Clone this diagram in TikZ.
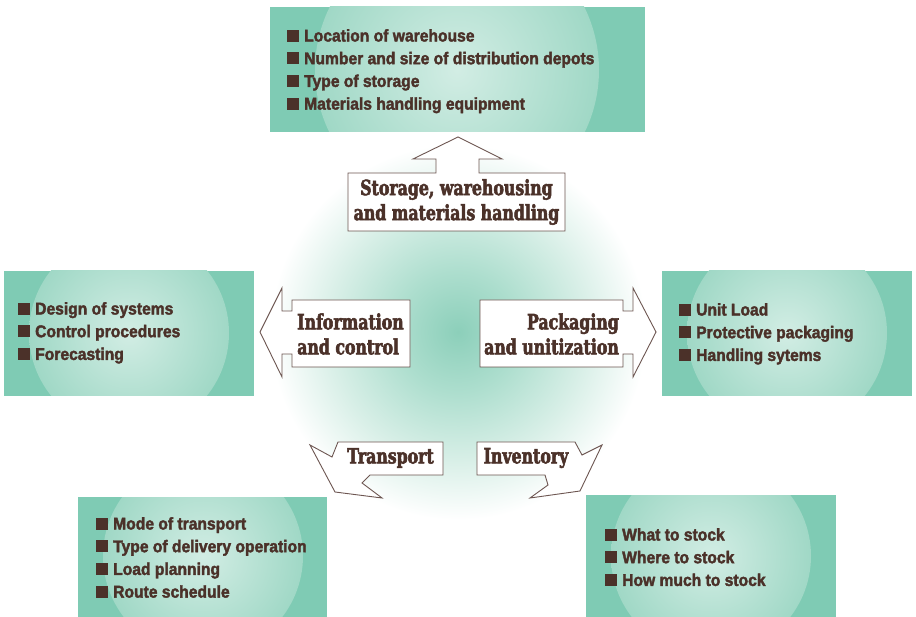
\documentclass[tikz,border=0pt]{standalone}
\usepackage{fontspec}
\setmainfont{Liberation Sans}
\newfontfamily\listfont{Liberation Sans}[FakeStretch=0.92, FakeBold=2.2]
\newfontfamily\labfont{DejaVu Serif}[FakeStretch=0.75, FakeBold=2.6]
\definecolor{boxgreen}{HTML}{7FCBB4}
\definecolor{circin}{HTML}{D2EDE4}
\definecolor{circout}{HTML}{A0D8C6}
\definecolor{glowc}{HTML}{8CCFBA}
\definecolor{glowm}{HTML}{ADDECE}
\definecolor{glowl}{HTML}{D8EFE7}
\definecolor{txtbrown}{HTML}{4B3129}
\definecolor{linebrown}{HTML}{6D5651}
\pgfdeclareradialshading{boxcirc}{\pgfpoint{0bp}{0bp}}{color(0bp)=(circin); color(25bp)=(circout); color(50bp)=(circout)}
\pgfdeclareradialshading{glow}{\pgfpoint{0bp}{0bp}}{color(0bp)=(glowc); color(8bp)=(glowm); color(17bp)=(glowl); color(25bp)=(white); color(50bp)=(white)}
\newcommand{\bul}{\rule{12pt}{12pt}\hspace{5pt}}
\tikzset{
  listtext/.style={anchor=north west, inner sep=0pt, align=left, text=txtbrown,
    font=\listfont\bfseries\fontsize{17}{22.7}\selectfont},
  labtext/.style={inner sep=0pt, text=txtbrown,
    font=\labfont\bfseries\fontsize{21}{25}\selectfont},
  arrowshape/.style={draw=linebrown, line width=0.9pt, fill=white, line join=miter},
}
\begin{document}
\begin{tikzpicture}[x=1pt,y=-1pt]
\useasboundingbox (0,0) rectangle (916,617);
% central glow
\shade[shading=glow] (458,332) circle (188);
% boxes with inner light circles
\newcommand{\greenbox}[6]{%
  \fill[boxgreen] (#1,#2) rectangle (#3,#4);
  \begin{scope}
    \clip (#1,#2) rectangle (#3,#4);
    \shade[shading=boxcirc] (#5) circle (#6);
  \end{scope}}
\greenbox{270}{7}{645}{132}{457,70}{142}
\greenbox{4}{271}{254}{396}{129,333}{100}
\greenbox{662}{271}{912}{396}{787,333}{100}
\greenbox{78}{497}{327}{617}{203,556}{100}
\greenbox{586}{495}{836}{617}{711,556}{100}
% list texts
\node[listtext] (ltop) at (287,29) {\bul Location of warehouse\\ \bul Number and size of distribution depots\\ \bul Type of storage\\ \bul Materials handling equipment};
\node[listtext] (lleft) at (18,302) {\bul Design of systems\\ \bul Control procedures\\ \bul Forecasting};
\node[listtext] (lright) at (679,303) {\bul Unit Load\\ \bul Protective packaging\\ \bul Handling sytems};
\node[listtext] (lbl) at (96,517) {\bul Mode of transport\\ \bul Type of delivery operation\\ \bul Load planning\\ \bul Route schedule};
\node[listtext] (lbr) at (605,528) {\bul What to stock\\ \bul Where to stock\\ \bul How much to stock};
% arrows
\draw[arrowshape] (348,173) -- (436,173) -- (436,159) -- (413,159) -- (458,137) -- (502,159) -- (479,159) -- (479,173) -- (565,173) -- (565,231) -- (348,231) -- cycle;
\draw[arrowshape] (410,300) -- (292,300) -- (292,311) -- (282,311) -- (282,288) -- (260,332) -- (282,377) -- (282,354) -- (292,354) -- (292,367) -- (410,367) -- cycle;
\draw[arrowshape] (480,300) -- (623,300) -- (623,311) -- (633,311) -- (633,288) -- (656,332) -- (633,377) -- (633,354) -- (623,354) -- (623,367) -- (480,367) -- cycle;
\draw[arrowshape] (443,442) -- (338,442) -- (332,457) -- (310,445) -- (335,492) -- (382,498) -- (362,483) -- (370,475) -- (443,475) -- cycle;
\draw[arrowshape] (477,442) -- (575,442) -- (582,455) -- (602,445) -- (580,491) -- (530,498) -- (548,485) -- (545,475) -- (477,475) -- cycle;
% arrow labels
\node[labtext, align=center] (storage) at (456.5,202) {Storage, warehousing\\and materials handling};
\node[labtext, align=left] (info) at (350.5,334) {Information\\and control};
\node[labtext, align=right] (pack) at (551.5,334) {Packaging\\and unitization};
\node[labtext] (trans) at (390.5,458) {Transport};
\node[labtext] (inv) at (526,458) {Inventory};
\end{tikzpicture}
\end{document}
